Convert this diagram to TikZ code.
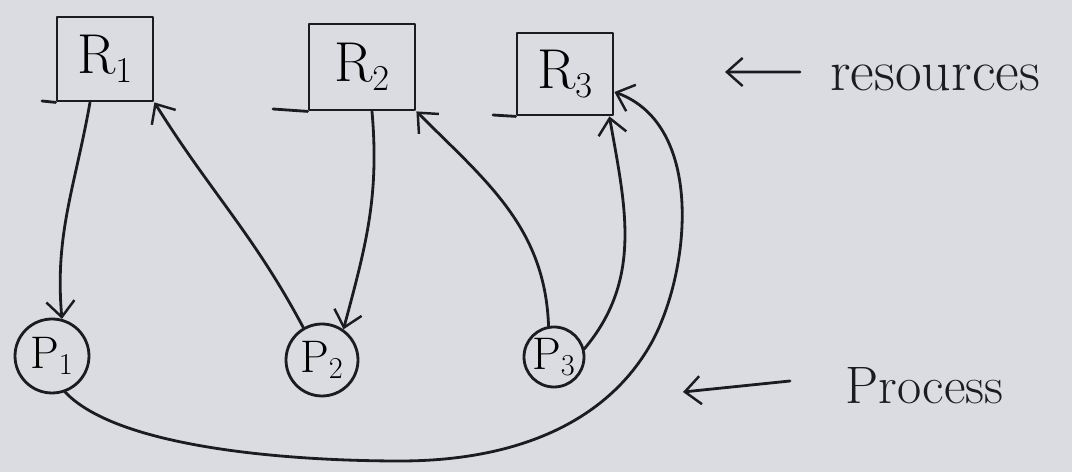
\documentclass[tikz,border=0pt]{standalone}
\usetikzlibrary{arrows.meta}
\definecolor{paper}{RGB}{219,220,226}
\definecolor{ink}{RGB}{28,28,32}
\tikzset{
  ink line/.style={draw=ink, line width=1.6pt, line cap=round, line join=round},
  resbox/.style={ink line, rectangle, inner sep=0pt, font=\fontsize{32}{36}\selectfont},
  procnode/.style={ink line, circle, inner sep=0pt, font=\fontsize{26}{30}\selectfont},
  arr/.style={ink line, -{Straight Barb[length=9pt,width=16pt,line width=1.4pt]}},
  lbl/.style={text=ink, inner sep=0pt, font=\fontsize{30}{34}\selectfont}
}
\begin{document}
\begin{tikzpicture}[x=0.02cm,y=-0.02cm]
  % sheet of paper
  \fill[paper] (0,0) rectangle (1072,472);
  \useasboundingbox (0,0) rectangle (1072,472);

  % resources
  \node[resbox, minimum width=1.92cm, minimum height=1.68cm] (R1) at (105,59) {R$_1$};
  \node[resbox, minimum width=2.12cm, minimum height=1.72cm] (R2) at (362,67) {R$_2$};
  \node[resbox, minimum width=1.92cm, minimum height=1.64cm] (R3) at (565,74) {R$_3$};
  % base lines running out to the left of each box
  \coordinate (b1) at (42,101);
  \coordinate (b2) at (273,109);
  \coordinate (b3) at (493,115);
  \draw[ink line] (b1) -- (R1.south west);
  \draw[ink line] (b2) -- (R2.south west);
  \draw[ink line] (b3) -- (R3.south west);

  % processes
  \node[procnode, minimum size=1.48cm] (P1) at (52,356) {P$_1$};
  \node[procnode, minimum size=1.44cm] (P2) at (322,360) {P$_2$};
  \node[procnode, minimum size=1.2cm] (P3) at (554,357) {P$_3$};

  % assignment and request edges
  \draw[arr] ([xshift=-0.3cm]R1.south) to[out=-100,in=95] (P1.75);
  \draw[arr] (P2.120) to[out=118,in=-58] (R1.south east);
  \draw[arr] ([xshift=0.2cm]R2.south) to[out=-85,in=75] (P2.55);
  \draw[arr] (P3.100) to[out=92,in=-45] (R2.south east);
  \draw[arr] (P3.15) to[out=50,in=-80] ([xshift=-0.1cm]R3.south east);
  \draw[arr] (P1.-70) .. controls (120,450) and (300,461) .. (400,461)
                      .. controls (520,461) and (610,420) .. (653,340)
                      .. controls (690,270) and (705,125) .. ([yshift=-0.36cm]R3.east);

  % legend
  \node[lbl, anchor=west, font=\fontsize{33}{36}\selectfont] (rlabel) at (830,78) {resources};
  \coordinate (rp) at (725,72);
  \draw[arr] ([xshift=-0.6cm,yshift=0.12cm]rlabel.west) -- (rp);

  \node[lbl, anchor=west] (plabel) at (845,386) {Process};
  \coordinate (pp) at (683,392);
  \draw[arr] ([xshift=-1.1cm,yshift=0.1cm]plabel.west) -- (pp);
\end{tikzpicture}
\end{document}
